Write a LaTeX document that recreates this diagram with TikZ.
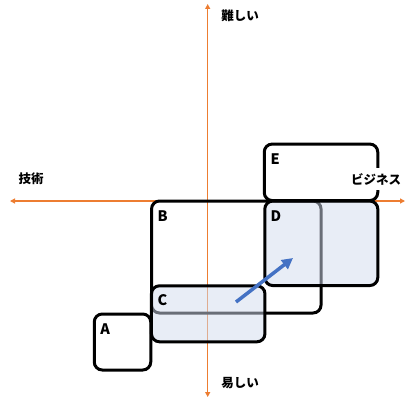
\documentclass[tikz,border=0pt]{standalone}
\usepackage{fontspec}
\newfontfamily\jp{Noto Sans CJK JP}
\usetikzlibrary{arrows.meta}
\definecolor{axisorange}{HTML}{ED7D31}
\definecolor{arrowblue}{HTML}{4472C4}
\definecolor{boxfill}{HTML}{D3DCEF}
\tikzset{
  box/.style={draw=black, line width=3pt, rounded corners=8pt, rectangle, inner sep=0pt, outer sep=0pt},
  shaded/.style={box, fill=boxfill, fill opacity=0.5, draw opacity=1},
  lbl/.style={font=\jp\bfseries\fontsize{14.5}{14.5}\selectfont, inner sep=0pt},
  axlbl/.style={font=\jp\bfseries\fontsize{12.5}{13}\selectfont, inner sep=1pt},
  axis/.style={draw=axisorange, line width=1.2pt, {Triangle[length=5pt,width=5pt]}-{Triangle[length=5pt,width=5pt]}}
}
\begin{document}
\begin{tikzpicture}[x=1pt,y=-1pt]
\useasboundingbox[fill=white] (0,0) rectangle (411,404);
% axes
\coordinate (vt) at (207.7,4);
\coordinate (vb) at (207.7,397);
\coordinate (hl) at (10,201);
\coordinate (hr) at (405,201);
\draw[axis] (vb) -- (vt);
\draw[axis] (hl) -- (hr);
% boxes
\node[box, minimum width=56.5pt, minimum height=56pt] (A) at (122.5,342) {};
\node[box, minimum width=169.5pt, minimum height=112pt] (B) at (236.3,257) {};
\node[shaded, minimum width=113.5pt, minimum height=56pt] (C) at (208.2,313.8) {};
\node[shaded, minimum width=113pt, minimum height=84.5pt] (D) at (321.3,243.3) {};
\node[box, fill=white, minimum width=113.5pt, minimum height=56.5pt] (E) at (321,172.3) {};
% letters
\node[lbl] (la) at ([shift={(11,15)}]A.north west) {A};
\node[lbl] (lb) at ([shift={(11,15)}]B.north west) {B};
\node[lbl] (lc) at ([shift={(11,14)}]C.north west) {C};
\node[lbl] (ld) at ([shift={(11,15)}]D.north west) {D};
\node[lbl] (le) at ([shift={(11,15)}]E.north west) {E};
% axis labels
\node[axlbl] (hard) at (240,16) {難しい};
\node[axlbl] (easy) at (240,383) {易しい};
\node[axlbl] (tech) at (31,179) {技術};
\node[axlbl, fill=white, inner ysep=5pt] (biz) at (376,179) {ビジネス};
% arrow
\coordinate (as) at (236,302);
\coordinate (ae) at (293,258);
\draw[draw=arrowblue, line width=3.5pt, -{Triangle[length=11pt,width=11pt]}] (as) -- (ae);
\end{tikzpicture}
\end{document}
